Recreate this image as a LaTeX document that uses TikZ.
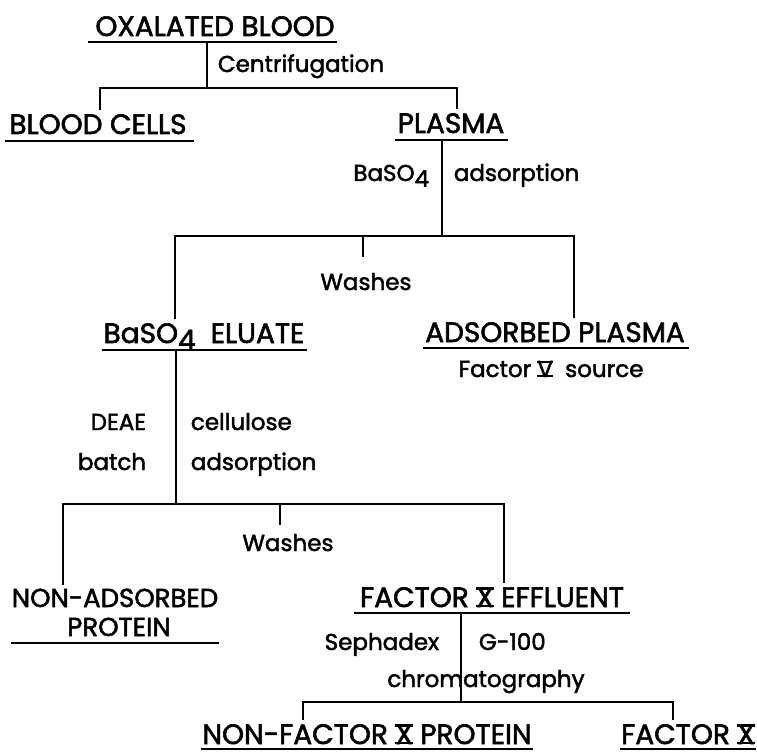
\documentclass[tikz,border=0pt]{standalone}
\usepackage{fontspec}
\setmainfont{Poppins}[FakeBold=2]
\usetikzlibrary{positioning}
\newsavebox\numbox
\newcommand{\rnum}[1]{\sbox\numbox{#1}\rlap{\rule{\wd\numbox}{0.08em}}\rlap{\rule[\dimexpr\ht\numbox-0.08em\relax]{\wd\numbox}{0.08em}}\usebox\numbox}
\newcommand{\lowr}[1]{\raisebox{-0.25em}{#1}}

\begin{document}
\begin{tikzpicture}[x=1pt,y=-1pt,line width=1.8pt,
  caps/.style={inner xsep=0pt,inner ysep=3pt,anchor=base,font=\fontsize{28}{32}\selectfont},
  note/.style={inner sep=0pt,font=\fontsize{23}{27}\selectfont},
  uline/.style={line width=2pt}]
\useasboundingbox (0,0) rectangle (757,754);
% centrifugation
\node[caps] (ox) at (215,36) {OXALATED BLOOD};
\draw[uline] ([xshift=-7pt,yshift=-6pt]ox.base west) -- ([xshift=2pt,yshift=-6pt]ox.base east);
\node[note,anchor=base west] (cen) at (217,72) {Centrifugation};
\coordinate (s1) at (207,88);
\coordinate (s1l) at (100,88);
\coordinate (s1r) at (457,88);
\node[caps] (cells) at (98,134) {BLOOD CELLS};
\node[caps] (plasma) at (451,133) {PLASMA};
\draw[uline] ([xshift=-4pt,yshift=-7pt]cells.base west) -- ([xshift=7pt,yshift=-7pt]cells.base east);
\draw[uline] ([xshift=-2pt,yshift=-7pt]plasma.base west) -- ([xshift=3pt,yshift=-7pt]plasma.base east);
\draw ([yshift=-6pt]ox.base -| s1) -- (s1);
\draw (s1l |- cells.north) -- (s1l) -- (s1r) -- (s1r |- plasma.north);
% barium sulfate adsorption
\node[note,anchor=base east] (baso) at (430,181) {BaSO\lowr{4}};
\node[note,anchor=base west] (ads1) at (453,181) {adsorption};
\coordinate (s2) at (442,236);
\coordinate (s2l) at (175,236);
\coordinate (s2r) at (574,236);
\coordinate (w1) at (363,236);
\coordinate (w1e) at (363,257);
\node[note,anchor=base] (wash1) at (366,290) {Washes};
\node[caps] (elu) at (204,343) {BaSO\lowr{4}\ \ ELUATE};
\node[caps] (adp) at (555,342) {ADSORBED PLASMA};
\draw[uline] ([xshift=-1pt,yshift=-7pt]elu.base west) -- ([xshift=2pt,yshift=-7pt]elu.base east);
\draw[uline] ([xshift=-1pt,yshift=-6pt]adp.base west) -- ([xshift=3pt,yshift=-6pt]adp.base east);
\node[note,anchor=base] (fv) at (551,377) {Factor \rnum{V}\ \ source};
\draw ([yshift=-7pt]plasma.base -| s2) -- (s2);
\draw (s2l |- elu.north) -- (s2l) -- (s2r) -- (s2r |- adp.north);
\draw (w1) -- (w1e);
% DEAE cellulose
\node[note,anchor=base east] (deae) at (147,430) {DEAE};
\node[note,anchor=base west] (cell) at (190,430) {cellulose};
\node[note,anchor=base east] (batch) at (147,470) {batch};
\node[note,anchor=base west] (ads2) at (190,470) {adsorption};
\coordinate (s3) at (176,504);
\coordinate (s3l) at (63,504);
\coordinate (s3r) at (504,504);
\coordinate (w2) at (280,504);
\coordinate (w2e) at (280,525);
\node[note,anchor=base] (wash2) at (288,551) {Washes};
\node[caps,font=\fontsize{26}{30}\selectfont] (nonads) at (115,607) {NON-ADSORBED};
\node[caps,font=\fontsize{26}{30}\selectfont] (prot) at (119,636) {PROTEIN};
\draw[uline] ([yshift=-7pt]prot.base -| nonads.west) -- ([yshift=-7pt]prot.base -| nonads.east);
\node[caps] (effl) at (492,607) {FACTOR \rnum{X} EFFLUENT};
\draw[uline] ([xshift=-5pt,yshift=-6pt]effl.base west) -- ([xshift=5pt,yshift=-6pt]effl.base east);
\draw ([yshift=-7pt]elu.base -| s3) -- (s3);
\draw (s3l |- nonads.north) -- (s3l) -- (s3r) -- (s3r |- effl.north);
\draw (w2) -- (w2e);
% Sephadex
\node[note,anchor=base east] (seph) at (440,650) {Sephadex};
\node[note,anchor=base west] (g100) at (478,650) {G-100};
\node[note,anchor=base] (chrom) at (486,687) {chromatography};
\coordinate (s4) at (461,702);
\coordinate (s4l) at (303,702);
\coordinate (s4r) at (673,702);
\node[caps] (nfp) at (367,744) {NON-FACTOR \rnum{X} PROTEIN};
\node[caps] (fx) at (688,744) {FACTOR \rnum{X}};
\draw[uline] ([yshift=-5pt]nfp.base west) -- ([yshift=-5pt]nfp.base east);
\draw[uline] ([yshift=-5pt]fx.base west) -- ([yshift=-5pt]fx.base east);
\draw ([yshift=-6pt]effl.base -| s4) -- (s4);
\draw (s4l |- nfp.north) -- (s4l) -- (s4r) -- (s4r |- fx.north);
\end{tikzpicture}
\end{document}
